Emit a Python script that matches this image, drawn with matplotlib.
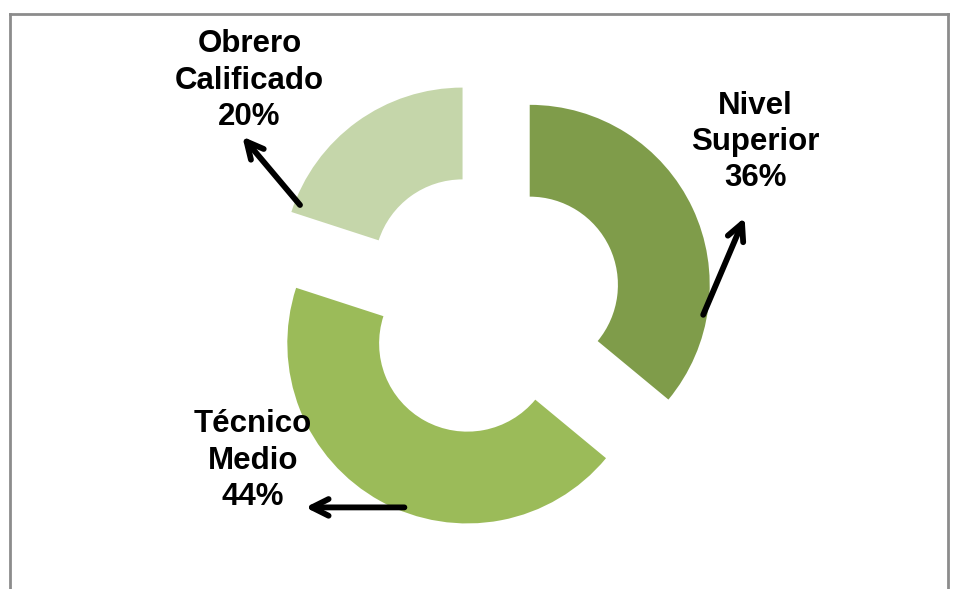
import matplotlib.pyplot as plt
from matplotlib.lines import Line2D

categories = ["Nivel\nSuperior", "Técnico\nMedio", "Obrero\nCalificado"]
values = [36, 44, 20]
colors = ["#7f9c4a", "#9bbb59", "#c5d6aa"]

# label centres and arrow (tail, head) in data units, pie radius = 1
label_pos = [(1.48, 0.90), (-1.31, -0.87), (-1.33, 1.24)]
arrows = [((1.19, -0.06), (1.42, 0.48)),
          ((-0.47, -1.13), (-1.02, -1.13)),
          ((-1.05, 0.55), (-1.37, 0.93))]

plt.rcParams["font.family"] = ["Liberation Sans", "DejaVu Sans"]

fig = plt.figure(figsize=(9.58, 5.89), dpi=100)
ax = fig.add_axes([0, 0, 1, 1])

ax.pie(values, colors=colors, startangle=90, counterclock=False,
       radius=1, explode=[0.25] * len(values),
       wedgeprops=dict(width=0.51, linewidth=0))

for cat, val, pos in zip(categories, values, label_pos):
    ax.text(pos[0], pos[1], f"{cat}\n{val}%", ha="center", va="center",
            fontsize=22.5, fontweight="bold", color="black", linespacing=1.28)

for tail, head in arrows:
    ax.annotate("", xy=head, xytext=tail,
                arrowprops=dict(arrowstyle="->", lw=4.2, color="black",
                                mutation_scale=30, shrinkA=0, shrinkB=0))

ax.set_aspect("auto")
ax.set_xlim(-489 / 180, 469 / 180)
ax.set_ylim(-285 / 180, 304 / 180)
ax.axis("off")

# gray chart frame (top, left, right)
W, H = 958, 589
for xs, ys in [([10, 948], [575, 575]), ([10, 10], [0, 575]), ([948, 948], [0, 575])]:
    fig.add_artist(Line2D([x / W for x in xs], [y / H for y in ys],
                          color="#8c8c8c", lw=2))

fig.savefig("out.png", dpi=100)
